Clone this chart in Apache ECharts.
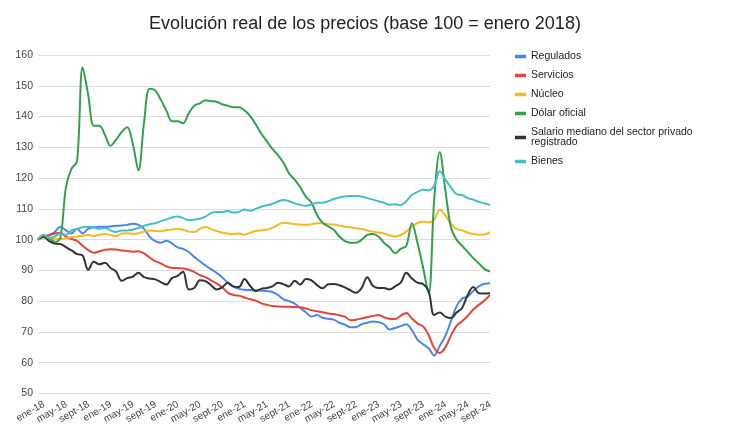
<!DOCTYPE html>
<html>
<head>
<meta charset="utf-8">
<script src="https://cdn.jsdelivr.net/npm/echarts@6/dist/echarts.min.js"></script>
<style>
html,body{margin:0;padding:0;background:#fff;}
#chart{width:730px;height:432px;}
</style>
</head>
<body>
<div id="chart"></div>
<script>
// Months ene-18 .. oct-24
const monthNames = ["ene","feb","mar","abr","may","jun","jul","ago","sept","oct","nov","dic"];
const years = ["18","19","20","21","22","23","24"];
const categories = [];
years.forEach(y => monthNames.forEach(m => categories.push(m + "-" + y)));
categories.length = 82;

const seriesNames = ["Regulados","Servicios","Núcleo","Dólar oficial","Salario mediano del sector privado\nregistrado","Bienes"];

const regulados = [100,101,101.5,102.5,104.2,103,102,103.5,102,103.5,104,104.2,104.2,104.3,104.5,104.6,104.8,105.2,104.8,103.5,101,99.5,99,99.6,98.8,97.5,97,96,94.4,93,91.6,90.4,89.2,87.8,86,84.7,84,83.7,83.6,83.5,83.4,83.3,83,82,80.6,80,79.2,77.8,76.4,75,75.5,74.6,74.3,74,73,72.4,71.5,71.6,72.5,73,73.4,73.2,72.5,70.8,71.3,71.9,72.5,70.6,67.5,66,64.7,62.3,65.5,68.7,73.5,78.3,80.8,81.5,83.3,84.8,85.7,85.8];

const servicios = [100,100.7,101.4,102,102.2,101,100.2,99.6,98,96.6,95.7,96.2,96.7,96.9,96.8,96.5,96.3,96.1,96.2,95.5,94.2,93,92.3,91.3,90.8,90.8,90.6,90.2,89.5,88.5,87.8,86.8,85.8,84.5,82.8,82,81.8,81.2,80.6,80.2,79.3,78.8,78.4,78.3,78.2,78.2,78.1,78,77.6,77.1,76.7,76.4,76,75.8,75.4,75,73.8,74,74.4,74.8,75.2,75.5,74.8,74.3,74.2,75.3,76.2,74.4,72.8,71.8,69,64.8,63.2,65,68.8,72,73.5,75.2,77.3,78.8,80.2,82];

const nucleo = [100,100.5,100.8,100.3,100.2,100.5,100.8,101,101.3,101.5,101.2,101.6,101.8,101.5,101.2,102,102.1,101.9,102.1,102.6,103,102.8,102.7,103.1,103.3,103.5,103.2,102.6,102.5,103.5,104.1,103.4,102.8,102.3,102,101.8,102,101.6,102.2,102.8,103,103.2,103.8,104.8,105.5,105.3,105.1,104.9,104.8,105,105.3,105.3,105,104.9,104.6,104.2,104,103.7,103.5,103,102.6,102.3,102,101.4,101,101.5,102.6,104.2,105.4,105.8,105.6,106.5,109.8,107.8,105.2,103.5,103,102.3,101.8,101.6,101.7,102.4];

const dolar = [100,101.5,100.5,99.3,100.5,117,123,125.5,156,147,137,137,134,130.5,132.5,135,136.5,131,122.5,138,149,148.5,145.5,142,138.5,138.5,137.8,141,143.5,144.3,145.3,145,144.8,144,143.5,143,143,142,140.2,137.5,134.5,132,129.5,127.5,125,121.5,119.5,117,114,112,108,105.5,104.3,103.2,101,99.5,99,99,100,101.5,101.8,101,99,97.5,95.6,97,98,105.3,99,91,82.5,113,128.5,116,104,100,98,96,94,92.3,90.5,89.6];

const salario = [100,101,99.5,98.7,98.6,97.6,96.5,95.3,94.8,90.2,92.8,92,92.5,90.8,89.6,86.6,87.5,88,89.2,87.8,87.4,87.1,86.2,85.4,87.5,88.2,89.6,83.8,84.3,86.8,86.5,85.2,83.8,84.5,86,84.8,84.6,87.2,85,83.3,84,84.3,84.8,86,85.5,84.8,86.6,85.4,87.2,86.8,85.2,84.2,85.5,85.6,85.2,84.5,83.5,82.7,84.3,87.8,85,84.3,84.3,83.8,84.8,86,89.2,87.4,86,85.6,83.3,75.5,76.3,75,74.5,76.3,77.8,82,84.6,82.6,82.5,82.6];

const bienes = [100,101.5,100.5,101,102,101.5,103,103.5,104,104.2,104,103.5,103.8,103,102.5,103,103,103.3,103.8,104.5,105,105.3,106,106.5,107.2,107.5,107,106.3,106.5,106.8,107.5,108.6,109,109,109.3,108.8,109,109.8,109.4,110,110.7,111.2,111.6,112.4,112.9,112.5,111.8,111.3,111,111.4,112,112,112.5,113.2,113.7,114,114.2,114.2,114,113.5,113,112.5,112,111.3,111.5,111.2,112.5,114.5,115.5,116.2,116,117.5,122.2,119.5,117,114.8,114.5,113.5,113,112.3,111.8,111.2];

const colors = ["#4a86e8","#e0463a","#f4b923","#34a04f","#333333","#46bdc6"];
const allData = [regulados, servicios, nucleo, dolar, salario, bienes];

const FONT = "Liberation Sans, Arial, sans-serif";
const chart = echarts.init(document.getElementById('chart'), null, {renderer:'canvas'});
chart.setOption({
  animation: false,
  color: colors,
  title: {
    text: "Evolución real de los precios (base 100 = enero 2018)",
    left: 'center', top: 10,
    textStyle: {fontSize: 18, fontWeight: 'normal', color: '#222', fontFamily: FONT}
  },
  legend: {
    orient: 'vertical', left: 515, top: 51, padding: 0,
    icon: 'rect', itemWidth: 11, itemHeight: 3.5, itemGap: 8,
    textStyle: {fontSize: 10.5, color: '#222', fontFamily: FONT, lineHeight: 10},
    data: seriesNames
  },
  grid: [
    {left: 38, right: 240, top: 55, bottom: 38.5, containLabel: false},
    {left: 44, right: 234, top: 55, bottom: 38.5, containLabel: false}
  ],
  xAxis: [{
    type: 'category', boundaryGap: false, data: categories, gridIndex: 0,
    axisLine: {show: false}, axisTick: {show: false}, axisLabel: {show: false}
  }, {
    type: 'category', boundaryGap: false, data: categories, gridIndex: 1,
    axisLine: {show: false}, axisTick: {show: false}, splitLine: {show: false},
    axisLabel: {interval: 3, rotate: 30, fontSize: 10, color: '#444', fontFamily: FONT, margin: 10}
  }],
  yAxis: [{
    type: 'value', min: 50, max: 160, interval: 10, gridIndex: 0,
    axisLine: {show: false}, axisTick: {show: false},
    axisLabel: {fontSize: 10.5, color: '#444', fontFamily: FONT, margin: 5},
    splitLine: {lineStyle: {color: '#dcdcdc', width: 1}}
  }, {
    type: 'value', min: 50, max: 160, interval: 10, gridIndex: 1, show: false
  }],
  series: allData.map((d, i) => ({
    name: seriesNames[i], type: 'line', data: d, smooth: 0.35,
    xAxisIndex: 0, yAxisIndex: 0,
    showSymbol: false, symbol: 'none',
    lineStyle: {width: 2, color: colors[i]}, itemStyle: {color: colors[i]}
  })).concat([{type: 'line', xAxisIndex: 1, yAxisIndex: 1, data: [], silent: true}])
});
</script>
</body>
</html>
